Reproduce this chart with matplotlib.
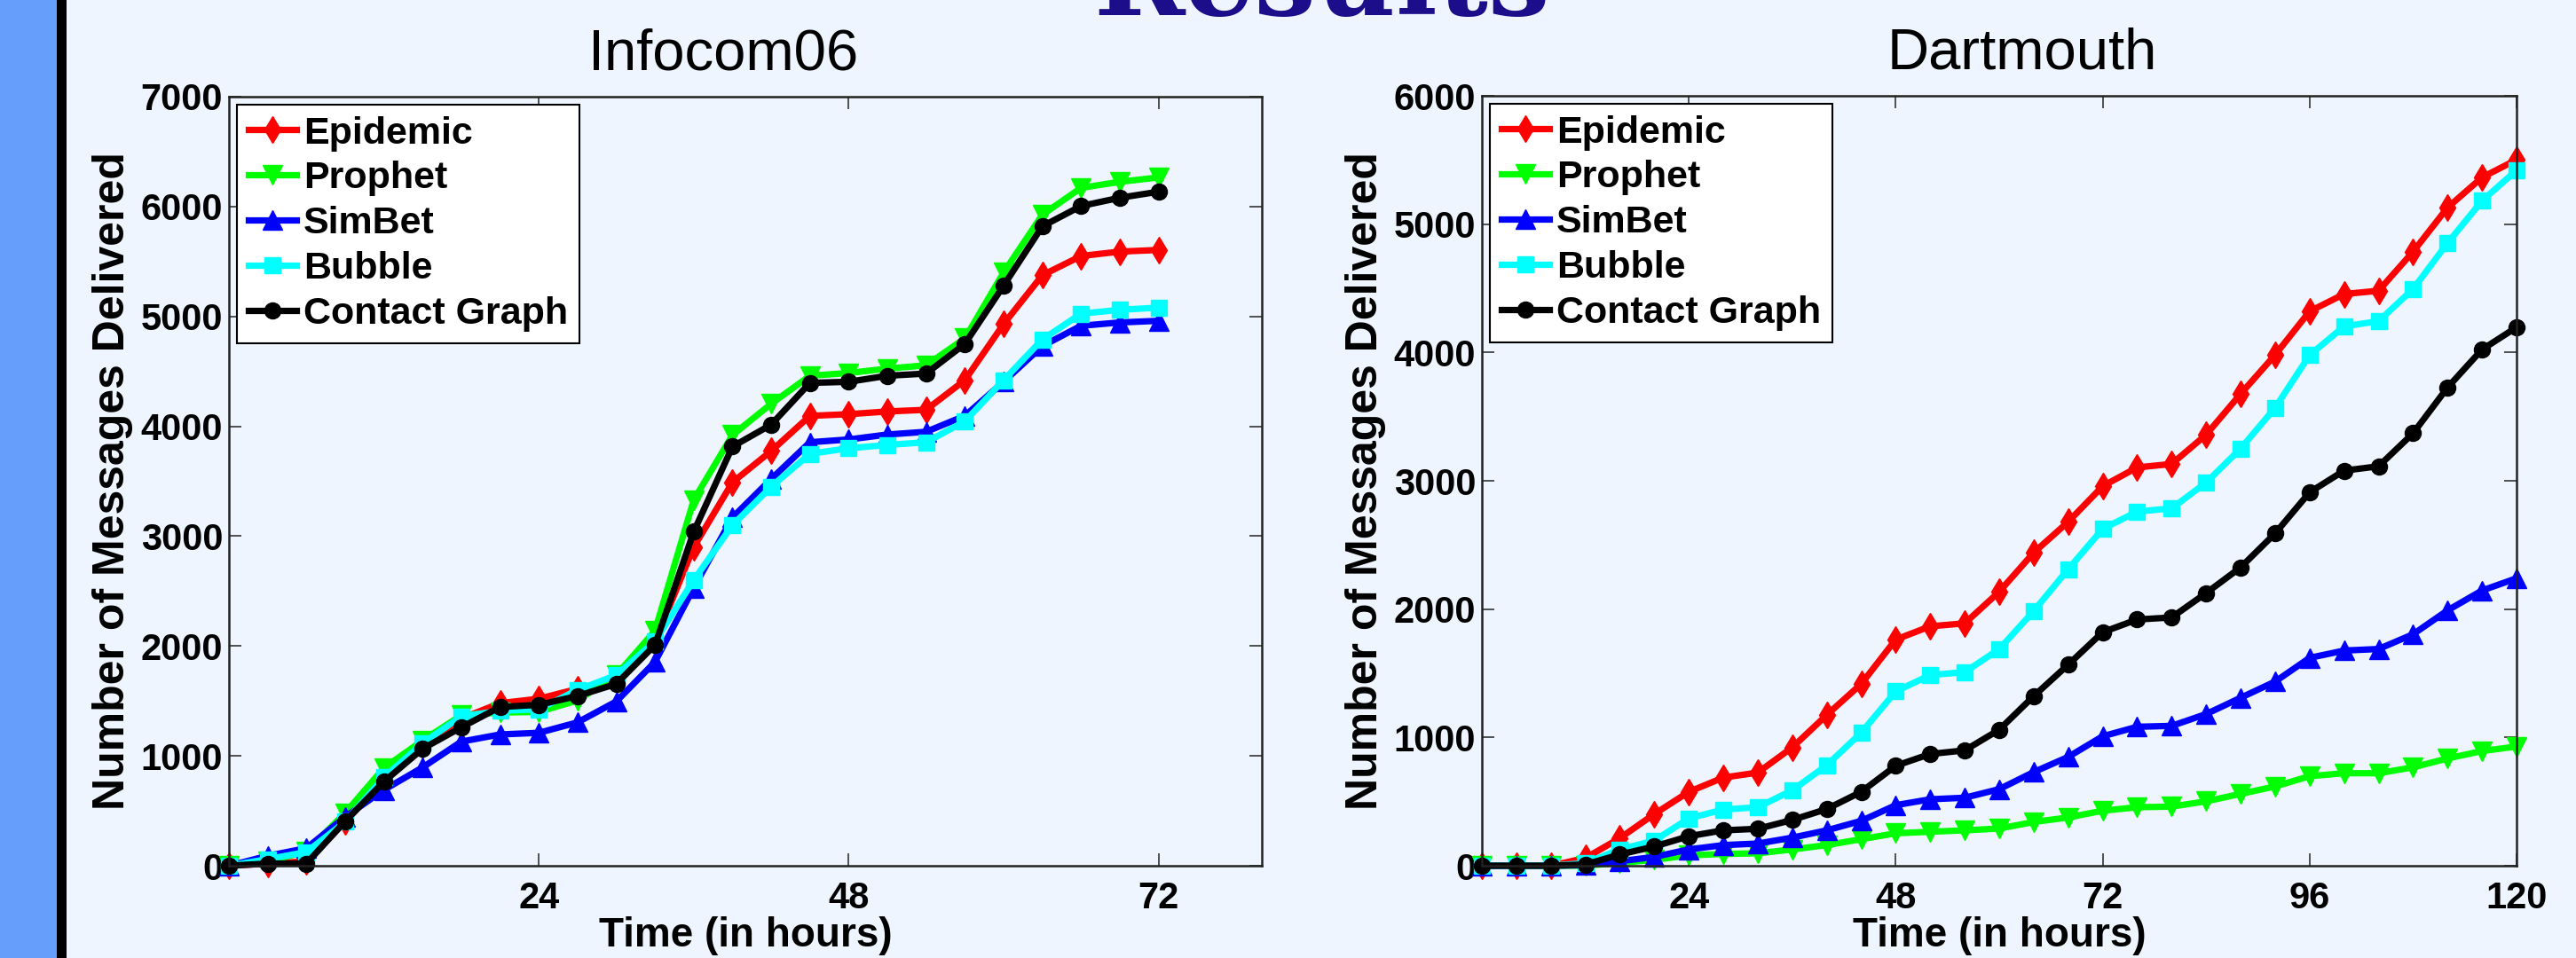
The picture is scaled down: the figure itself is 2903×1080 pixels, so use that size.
import matplotlib
matplotlib.use('Agg')
import matplotlib.pyplot as plt
from matplotlib.patches import Rectangle

plt.rcParams['font.family'] = ['Liberation Sans', 'DejaVu Sans']
plt.rcParams['font.weight'] = 'bold'

# ---------------- data ----------------
series_names = ['Epidemic', 'Prophet', 'SimBet', 'Bubble', 'Contact Graph']

infocom_hours = list(range(0, 73, 3))
infocom_epidemic = [0, 20, 40, 400, 780, 1100, 1340, 1480, 1520, 1610, 1700, 2040, 2900,
                    3490, 3775, 4095, 4110, 4135, 4150, 4420, 4930, 5375, 5550, 5590, 5605]
infocom_prophet = [0, 40, 130, 480, 890, 1140, 1370, 1395, 1400, 1505, 1735, 2140, 3330,
                   3920, 4205, 4460, 4485, 4525, 4555, 4800, 5400, 5925, 6170, 6225, 6265]
infocom_simbet = [0, 90, 160, 445, 690, 895, 1130, 1195, 1210, 1305, 1495, 1855, 2530,
                  3170, 3520, 3855, 3880, 3925, 3950, 4095, 4405, 4730, 4915, 4945, 4960]
infocom_bubble = [0, 60, 125, 400, 805, 1115, 1360, 1410, 1425, 1600, 1735, 2045, 2600,
                  3100, 3450, 3750, 3800, 3830, 3855, 4045, 4420, 4790, 5025, 5060, 5080]
infocom_contact = [0, 20, 20, 405, 765, 1065, 1260, 1445, 1465, 1545, 1655, 2010, 3040,
                   3815, 4015, 4395, 4405, 4460, 4480, 4750, 5280, 5820, 6005, 6080, 6135]

dart_hours = list(range(0, 121, 4))
dart_epidemic = [0, 0, 0, 60, 215, 403, 576, 687, 726, 922, 1175, 1417, 1763, 1866, 1889, 2135,
                 2440, 2680, 2958, 3104, 3131, 3359, 3677, 3981, 4320, 4455, 4481, 4785, 5129,
                 5364, 5502]
dart_prophet = [0, 0, 0, 0, 23, 46, 81, 92, 97, 127, 161, 207, 253, 265, 276, 290, 341, 376,
                429, 456, 461, 502, 560, 618, 698, 721, 721, 767, 836, 894, 929]
dart_simbet = [0, 0, 0, 5, 35, 69, 127, 161, 173, 219, 276, 350, 472, 518, 530, 597, 730, 848,
               1009, 1083, 1090, 1182, 1309, 1435, 1620, 1677, 1689, 1804, 1990, 2145, 2240]
dart_bubble = [0, 0, 0, 20, 127, 196, 369, 438, 456, 588, 783, 1037, 1359, 1486, 1509, 1688,
               1985, 2311, 2625, 2760, 2785, 2986, 3251, 3569, 3979, 4203, 4244, 4494, 4853,
               5182, 5420]
dart_contact = [0, 0, 0, 10, 88, 150, 230, 276, 288, 357, 442, 576, 779, 871, 899, 1060, 1322,
                1567, 1820, 1919, 1935, 2125, 2325, 2590, 2910, 3079, 3113, 3370, 3727, 4023,
                4196]

infocom_xticks = [24, 48, 72]
infocom_yticks = [0, 1000, 2000, 3000, 4000, 5000, 6000, 7000]
dart_xticks = [24, 48, 72, 96, 120]
dart_yticks = [0, 1000, 2000, 3000, 4000, 5000, 6000]

# ---------------- styles ----------------
colors = ['#ff0000', '#00ff00', '#0000ff', '#00ffff', '#000000']
markers = ['d', 'v', '^', 's', 'o']
msizes = [15, 16, 16, 13, 13]
BG = '#eef5fe'

W, H, DPI = 2903, 1080, 100
fig = plt.figure(figsize=(W / DPI, H / DPI), dpi=DPI, facecolor=BG)

# slide decorations
fig.add_artist(Rectangle((0, 0), 64 / W, 1, transform=fig.transFigure,
                         facecolor='#659ffb', edgecolor='none'))
fig.add_artist(Rectangle((64 / W, 0), 11 / W, 1, transform=fig.transFigure,
                         facecolor='#000000', edgecolor='none'))
fig.text(0.513, 1 - 17 / H, 'Results', fontsize=89, fontweight='bold',
         family=['DejaVu Serif'], color='#1c0d8a', ha='center', va='baseline')


def make_panel(rect, hours, series, title, title_x, xlim, ylim, xticks, yticks):
    ax = fig.add_axes(rect)
    ax.set_facecolor('none')
    for name, vals, c, m, ms in zip(series_names, series, colors, markers, msizes):
        ax.plot(hours, vals, color=c, marker=m, markersize=ms, linewidth=5.2,
                markeredgewidth=1, markerfacecolor=c, markeredgecolor=c,
                label=name, clip_on=False)
    ax.set_xlim(*xlim)
    ax.set_ylim(*ylim)
    ax.set_xticks(xticks)
    ax.set_yticks(yticks)
    ax.tick_params(direction='in', length=10, width=1.2, top=True, right=True,
                   labelsize=30, color='#333333')
    ax.tick_params(axis='x', pad=12)
    ax.tick_params(axis='y', pad=5)
    for s in ax.spines.values():
        s.set_linewidth(1.8)
        s.set_color('#222222')
    t = ax.set_title(title, fontsize=47, fontweight='normal', pad=22)
    t.set_x(title_x)
    ax.set_xlabel('Time (in hours)', fontsize=33, fontweight='bold', labelpad=0)
    ax.set_ylabel('Number of Messages Delivered', fontsize=36, fontweight='bold',
                  labelpad=6)
    leg = ax.legend(loc='upper left', prop={'size': 31, 'weight': 'bold'},
                    frameon=True, fancybox=False, edgecolor='black', framealpha=1,
                    facecolor='white', borderaxespad=0.2, borderpad=0.3,
                    labelspacing=0.25, handlelength=1.26, handletextpad=0.19)
    leg.get_frame().set_linewidth(1.5)
    return ax


make_panel([258 / W, 1 - 976 / H, (1422 - 258) / W, (976 - 109) / H],
           infocom_hours,
           [infocom_epidemic, infocom_prophet, infocom_simbet, infocom_bubble, infocom_contact],
           'Infocom06', 0.479, (0, 80), (0, 7000), infocom_xticks, infocom_yticks)

make_panel([1670 / W, 1 - 976 / H, (2836 - 1670) / W, (976 - 108) / H],
           dart_hours,
           [dart_epidemic, dart_prophet, dart_simbet, dart_bubble, dart_contact],
           'Dartmouth', 0.522, (0, 120), (0, 6000), dart_xticks, dart_yticks)

fig.savefig('out.png', dpi=DPI, facecolor=BG)
